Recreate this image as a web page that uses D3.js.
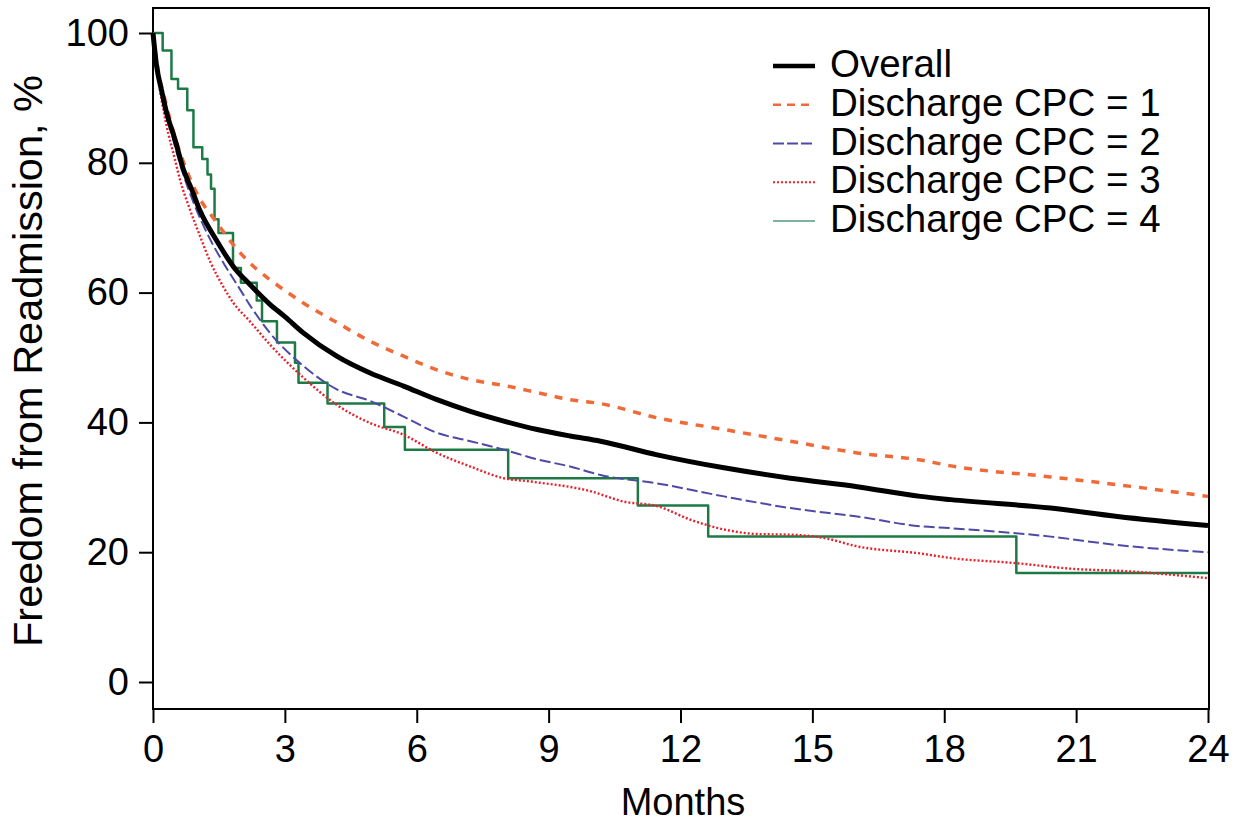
<!DOCTYPE html>
<html>
<head>
<meta charset="utf-8">
<script src="https://cdn.jsdelivr.net/npm/d3@7"></script>
<style>
  html, body { margin: 0; padding: 0; background: #fff; }
  svg { display: block; font-family: "Liberation Sans", Arial, Helvetica, sans-serif; }
</style>
</head>
<body>
<svg id="chart" width="1241" height="824"></svg>
<script>
// ---- Data ----
const xTicks = [0, 3, 6, 9, 12, 15, 18, 21, 24];
const yTicks = [0, 20, 40, 60, 80, 100];
const legendLabels = ["Overall", "Discharge CPC = 1", "Discharge CPC = 2", "Discharge CPC = 3", "Discharge CPC = 4"];

const overallMonths = [0, 0.08, 0.2, 0.31, 0.5, 0.69, 0.88, 1.07, 1.45, 1.83, 2.21, 2.66, 3.0, 3.42, 4.18, 4.94, 5.70, 6.46, 7.22, 7.98, 8.74, 9.49, 10.18, 11.47, 12.99, 14.5, 16.02, 17.46, 18.15, 20.42, 21.94, 24];
const overallValues = [100, 95, 91, 87.7, 83.6, 79.0, 75.9, 72.6, 68.0, 64.0, 61.2, 58.2, 56.3, 53.8, 50.2, 47.6, 45.6, 43.5, 41.7, 40.2, 38.9, 37.9, 37.1, 35.0, 33.0, 31.4, 30.1, 28.6, 28.1, 26.8, 25.5, 24.1];

const cpc1Months = [0, 0.1, 0.3, 0.5, 0.7, 0.99, 1.45, 1.91, 2.36, 2.66, 3.42, 4.18, 4.94, 5.70, 6.46, 7.22, 7.98, 8.74, 9.49, 10.18, 11.47, 12.99, 14.5, 16.02, 17.46, 18.15, 20.42, 21.94, 24];
const cpc1Values = [100, 95, 89, 84, 80, 75.4, 70.8, 66.7, 63.6, 62.0, 58.4, 55.4, 52.5, 50.2, 48.1, 46.6, 45.7, 44.6, 43.5, 42.9, 40.7, 38.9, 37.1, 35.3, 34.2, 33.3, 31.6, 30.4, 28.6];

const cpc2Months = [0, 0.1, 0.3, 0.5, 0.7, 0.92, 1.30, 1.60, 1.98, 2.21, 2.66, 3.42, 4.18, 4.94, 5.70, 6.46, 7.22, 7.98, 8.74, 9.49, 10.18, 11.47, 12.99, 14.5, 16.02, 17.46, 18.15, 20.42, 21.94, 24];
const cpc2Values = [100, 95, 88, 82.5, 78, 73.9, 68.2, 64.6, 60.5, 58.0, 53.8, 48.7, 45.1, 43.3, 40.9, 38.4, 37.1, 35.8, 34.3, 33.2, 31.9, 30.6, 28.6, 26.8, 25.5, 24.0, 23.7, 22.4, 21.1, 20.0];

const cpc3Months = [0, 0.1, 0.3, 0.5, 0.61, 0.84, 1.07, 1.30, 1.60, 1.83, 2.2, 2.66, 3.42, 4.18, 4.94, 5.70, 6.46, 7.22, 7.98, 8.58, 9.95, 10.71, 11.47, 12.23, 12.99, 13.75, 14.5, 15.26, 16.02, 17.46, 18.15, 19.66, 20.8, 22.31, 24];
const cpc3Values = [100, 94, 86, 80.5, 77.5, 72.8, 68.7, 64.8, 60.9, 58.4, 55.6, 52.0, 46.9, 42.7, 39.9, 38.1, 35.3, 33.2, 31.4, 30.9, 29.4, 27.8, 27.1, 25.0, 23.5, 22.8, 22.7, 22.2, 20.9, 19.8, 19.1, 18.3, 17.5, 17.0, 16.0];

const cpc4Months = [0, 0.22, 0.42, 0.57, 0.78, 0.92, 1.12, 1.24, 1.32, 1.40, 1.49, 1.82, 2.0, 2.36, 2.48, 2.82, 3.23, 3.31, 3.97, 5.26, 5.73, 8.08, 11.03, 12.63, 19.64, 24];
const cpc4Values = [100, 97.3, 92.9, 91.4, 88.1, 82.4, 80.6, 78.2, 76.0, 71.3, 69.2, 63.8, 61.5, 58.8, 55.6, 52.3, 49.2, 46.1, 42.9, 39.3, 35.8, 31.4, 27.2, 22.4, 16.8, 16.8];

// ---- Layout ----
const svg = d3.select("#chart");
const frame = { left: 153, right: 1209, top: 8, bottom: 709 };
const x = d3.scaleLinear().domain([0, 24]).range([153, 1208]);
const y = d3.scaleLinear().domain([0, 100]).range([682, 33]);

const zip = (ms, vs) => ms.map((m, i) => ({ m, v: vs[i] }));

const series = [
  { data: zip(overallMonths, overallValues), color: "#000000", width: 5, dash: null, curve: d3.curveMonotoneX, legW: 4.5 },
  { data: zip(cpc1Months, cpc1Values), color: "#f06a38", width: 3.5, dash: "8,8", curve: d3.curveMonotoneX, legW: 2.5, legDash: "8,6" },
  { data: zip(cpc2Months, cpc2Values), color: "#4c4aa6", width: 2, dash: "11,4", curve: d3.curveMonotoneX, legW: 2, legDash: "11,3" },
  { data: zip(cpc3Months, cpc3Values), color: "#e8222c", width: 2.4, dash: "2,2", curve: d3.curveMonotoneX, legW: 2, legDash: "2,2" },
  { data: zip(cpc4Months, cpc4Values), color: "#1e7a45", width: 2.5, dash: null, curve: d3.curveStepAfter, legW: 1.6, legColor: "#4f9a80" }
];

// Frame
svg.append("rect")
  .attr("x", frame.left).attr("y", frame.top)
  .attr("width", frame.right - frame.left).attr("height", frame.bottom - frame.top)
  .attr("fill", "none").attr("stroke", "#000").attr("stroke-width", 2);

// Curves
const order = [4, 3, 2, 1, 0];
order.forEach(i => {
  const s = series[i];
  const line = d3.line().x(d => x(d.m)).y(d => y(d.v)).curve(s.curve);
  svg.append("path")
    .datum(s.data)
    .attr("d", line)
    .attr("fill", "none")
    .attr("stroke", s.color)
    .attr("stroke-width", s.width)
    .attr("stroke-dasharray", s.dash)
    .attr("stroke-linejoin", "round");
});

// Y axis
const yAxis = d3.axisLeft(y).tickValues(yTicks).tickSize(14).tickPadding(10).tickFormat(d3.format("d"));
const gy = svg.append("g").attr("transform", `translate(${frame.left},0)`).call(yAxis);
gy.select(".domain").remove();
gy.selectAll(".tick line").attr("stroke", "#000").attr("stroke-width", 2);
gy.selectAll(".tick text").attr("font-size", 38).attr("fill", "#000").attr("font-family", "Liberation Sans, Arial, sans-serif");

// X axis
const xAxis = d3.axisBottom(x).tickValues(xTicks).tickSize(14).tickPadding(12).tickFormat(d3.format("d"));
const gx = svg.append("g").attr("transform", `translate(0,${frame.bottom})`).call(xAxis);
gx.select(".domain").remove();
gx.selectAll(".tick line").attr("stroke", "#000").attr("stroke-width", 2);
gx.selectAll(".tick text").attr("font-size", 38).attr("fill", "#000").attr("font-family", "Liberation Sans, Arial, sans-serif");

// Axis titles
svg.append("text")
  .attr("x", 683).attr("y", 815)
  .attr("text-anchor", "middle")
  .attr("font-size", 38)
  .text("Months");

svg.append("text")
  .attr("transform", "translate(42,361) rotate(-90)")
  .attr("text-anchor", "middle")
  .attr("font-size", 41.5)
  .text("Freedom from Readmission, %");

// Legend
const legend = svg.append("g");
legendLabels.forEach((lab, i) => {
  const s = series[i];
  const baseY = 77 + i * 38.75;
  legend.append("line")
    .attr("x1", 773).attr("x2", 815)
    .attr("y1", baseY - 11).attr("y2", baseY - 11)
    .attr("stroke", s.legColor || s.color)
    .attr("stroke-width", s.legW)
    .attr("stroke-dasharray", s.legDash || null);
  legend.append("text")
    .attr("x", 830).attr("y", baseY)
    .attr("font-size", 38.5)
    .text(lab);
});
</script>
</body>
</html>
